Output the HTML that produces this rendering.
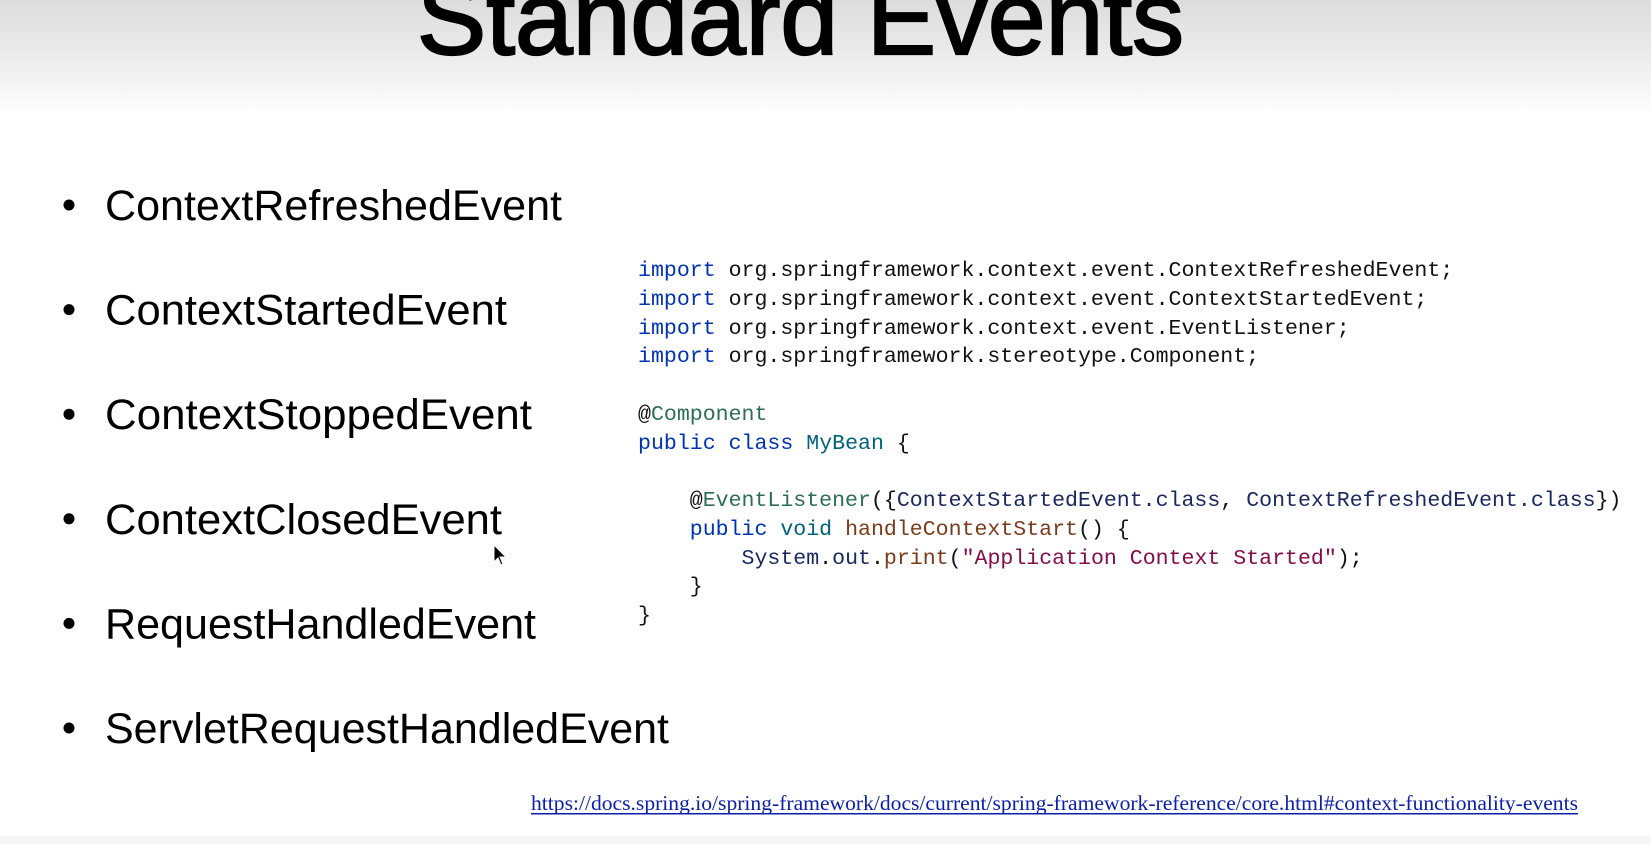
<!DOCTYPE html>
<html><head><meta charset="utf-8"><style>
html,body{margin:0;padding:0}
body{width:1651px;height:844px;position:relative;overflow:hidden;background:#fff;font-family:"Liberation Sans",Arial,sans-serif}
.grad{position:absolute;left:0;top:0;width:1651px;height:115px;background:linear-gradient(#dcdcdc,#f3f3f3 70%,#fff)}
.bot{position:absolute;left:0;top:836px;width:1651px;height:8px;background:#f6f6f6}
svg{position:absolute;left:0;top:0}
pre{position:absolute;left:638px;top:257px;margin:0;font-family:"Liberation Mono",monospace;font-size:21.57px;line-height:28.75px;color:#111}
.k{color:#0033b3}.g{color:#2b6f52}.t{color:#00627a}.n{color:#1b2860}.m{color:#7a3b1a}.s{color:#850c4a}
</style></head><body>
<div class="grad"></div>
<div class="bot"></div>
<svg width="1651" height="844" viewBox="0 0 1651 844">
<text x="417" y="54" font-family="Liberation Sans" font-size="104" textLength="767" lengthAdjust="spacingAndGlyphs" fill="#000" stroke="#000" stroke-width="2.2">Standard Events</text>
<g font-family="Liberation Sans" font-size="43" fill="#000">
<circle cx="69" cy="205" r="5.5"/><text x="105" y="220" textLength="457" lengthAdjust="spacingAndGlyphs">ContextRefreshedEvent</text>
<circle cx="69" cy="309.6" r="5.5"/><text x="105" y="324.6" textLength="402" lengthAdjust="spacingAndGlyphs">ContextStartedEvent</text>
<circle cx="69" cy="414.2" r="5.5"/><text x="105" y="429.2" textLength="427" lengthAdjust="spacingAndGlyphs">ContextStoppedEvent</text>
<circle cx="69" cy="518.8" r="5.5"/><text x="105" y="533.8" textLength="397" lengthAdjust="spacingAndGlyphs">ContextClosedEvent</text>
<circle cx="69" cy="623.4" r="5.5"/><text x="105" y="638.4" textLength="431" lengthAdjust="spacingAndGlyphs">RequestHandledEvent</text>
<circle cx="69" cy="728" r="5.5"/><text x="105" y="743" textLength="564" lengthAdjust="spacingAndGlyphs">ServletRequestHandledEvent</text>
</g>
<text x="531" y="810" font-family="Liberation Serif" font-size="21" fill="#0b1fa8" textLength="1047" lengthAdjust="spacingAndGlyphs">https://docs.spring.io/spring-framework/docs/current/spring-framework-reference/core.html#context-functionality-events</text>
<rect x="531" y="813" width="1047" height="1.5" fill="#0b1fa8"/>
<path d="M494 545 L494 562 L498 558 L501 565 L503 564 L500 557 L506 557 Z" fill="#000" stroke="#fff" stroke-width="1"/>
</svg>
<pre><span class="k">import</span> org.springframework.context.event.ContextRefreshedEvent;
<span class="k">import</span> org.springframework.context.event.ContextStartedEvent;
<span class="k">import</span> org.springframework.context.event.EventListener;
<span class="k">import</span> org.springframework.stereotype.Component;

@<span class="g">Component</span>
<span class="k">public</span> <span class="k">class</span> <span class="t">MyBean</span> {

    @<span class="g">EventListener</span>({<span class="n">ContextStartedEvent.class</span>, <span class="n">ContextRefreshedEvent.class</span>})
    <span class="k">public</span> <span class="t">void</span> <span class="m">handleContextStart</span>() {
        <span class="n">System</span>.<span class="n">out</span>.<span class="m">print</span>(<span class="s">"Application Context Started"</span>);
    }
}</pre>
</body></html>
